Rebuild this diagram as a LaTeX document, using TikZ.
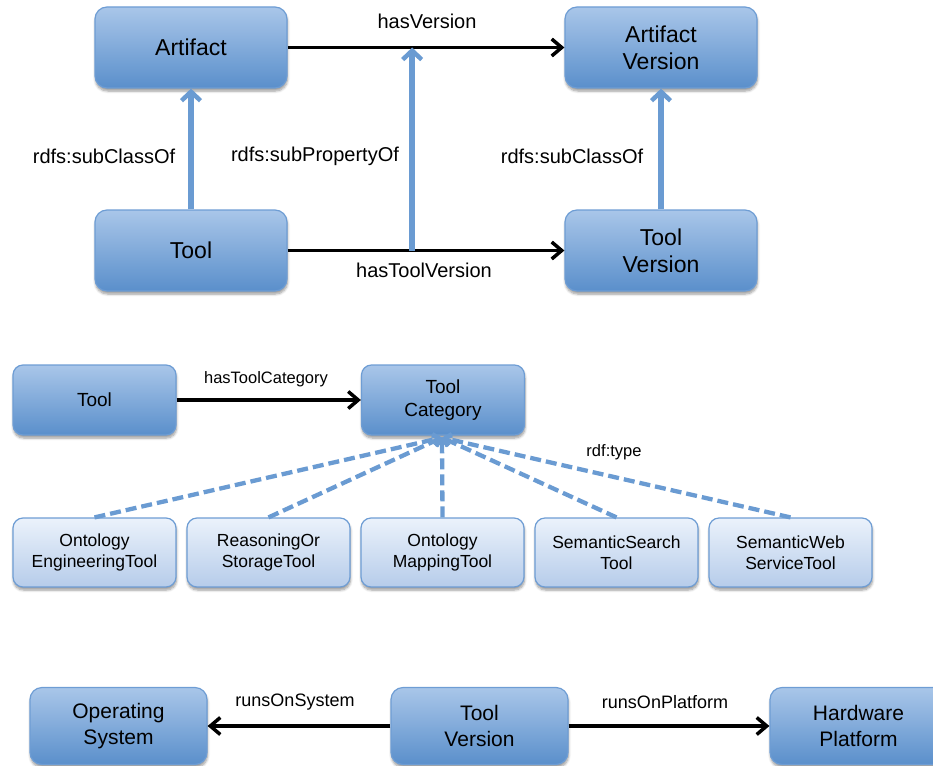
\documentclass[tikz,border=0pt]{standalone}
\usepackage{fontspec}
\setmainfont{Liberation Sans}
\usetikzlibrary{arrows.meta,shadows.blur,calc}

\definecolor{boxtop}{HTML}{A9C6E9}
\definecolor{boxbot}{HTML}{5A8FCB}
\definecolor{boxline}{HTML}{6E9DD4}
\definecolor{lighttop}{HTML}{EBF2FB}
\definecolor{lightbot}{HTML}{B6CCEA}
\definecolor{linkblue}{HTML}{6A9BD2}

\tikzset{
  classbox/.style={rounded corners=12pt, draw=boxline, line width=1.2pt,
    top color=boxtop, bottom color=boxbot, align=center, inner sep=0pt,
    blur shadow={shadow xshift=0.5pt, shadow yshift=-3pt, shadow blur radius=2.5pt,
      shadow blur steps=6, shadow opacity=40}},
  bigbox/.style={classbox, minimum width=192pt, minimum height=81pt,
    font=\fontsize{23}{27}\selectfont},
  midbox/.style={classbox, rounded corners=10pt, minimum width=163pt, minimum height=70pt,
    font=\fontsize{19}{23}\selectfont},
  kindbox/.style={classbox, rounded corners=10pt, top color=lighttop, bottom color=lightbot,
    minimum width=163pt, minimum height=69pt, font=\fontsize{17.5}{21}\selectfont},
  lowbox/.style={classbox, minimum width=177pt, minimum height=77pt,
    font=\fontsize{21}{26}\selectfont},
  relation/.style={line width=3.8pt, draw=black,
    -{Straight Barb[length=10pt,width=17pt,line width=3.5pt]}},
  subrel/.style={line width=6pt, draw=linkblue,
    -{Straight Barb[length=9pt,width=19pt,line width=4.5pt]}},
  typerel/.style={line width=4.3pt, draw=linkblue, dash pattern=on 11pt off 5pt,
    -{Straight Barb[length=6pt,width=12pt,line width=3.5pt]}},
  lbl/.style={font=\fontsize{20}{24}\selectfont, inner sep=0pt},
  slbl/.style={font=\fontsize{16.5}{20}\selectfont, inner sep=0pt},
  blbl/.style={font=\fontsize{18}{22}\selectfont, inner sep=0pt},
}

\begin{document}
\begin{tikzpicture}[x=1pt, y=-1pt]
\useasboundingbox (0,0) rectangle (933,765);
\clip (0,0) rectangle (933,765);

% --- artifacts and their versions ---
\node[bigbox] (art)   at (191,47.5)  {Artifact};
\node[bigbox] (artv)  at (661,47.5)  {Artifact\\Version};
\node[bigbox] (tool)  at (191,250.5) {Tool};
\node[bigbox] (toolv) at (661,250.5) {Tool\\Version};

\draw[relation] (art.east) -- (artv.west);
\draw[relation] (tool.east) -- (toolv.west);
\coordinate (sp) at ($(tool.east)!0.45!(toolv.west)$);
\coordinate (spt) at (sp |- art.east);
\draw[subrel] (sp) -- (spt);
\draw[subrel] (tool.north) -- (art.south);
\draw[subrel] (toolv.north) -- (artv.south);

\node[lbl] (lhv)  at (427,21)  {hasVersion};
\node[lbl] (lhtv) at (424,270) {hasToolVersion};
\node[lbl] (lsc1) at (104,156) {rdfs:subClassOf};
\node[lbl] (lsp)  at (315,156) {rdfs:subPropertyOf};
\node[lbl] (lsc2) at (572,156) {rdfs:subClassOf};

% --- tool categories ---
\node[midbox] (tool2) at (94.5,400) {Tool};
\node[midbox] (cat)   at (443,400)  {Tool\\Category};
\draw[relation] (tool2.east) -- (cat.west);
\node[slbl] (lhtc) at (266,379) {hasToolCategory};

\node[kindbox] (k1) at (94.5,552.5)  {Ontology\\EngineeringTool};
\node[kindbox] (k2) at (268.5,552.5) {ReasoningOr\\StorageTool};
\node[kindbox] (k3) at (442.5,552.5) {Ontology\\MappingTool};
\node[kindbox] (k4) at (616.5,552.5) {SemanticSearch\\Tool};
\node[kindbox] (k5) at (790.5,552.5) {SemanticWeb\\ServiceTool};

\coordinate (hub) at ($(cat.south)+(-1,2)$);
\foreach \k in {k1,k2,k3,k4,k5}
  \draw[typerel] (\k.north) -- (hub);
\node[slbl] (ltype) at (614,452) {rdf:type};

% --- platforms of a tool version ---
\node[lowbox] (os) at (118.5,726) {Operating\\System};
\node[lowbox] (tv) at (479.5,726) {Tool\\Version};
\node[lowbox] (hw) at (858.5,726) {Hardware\\Platform};
\draw[relation] (tv.west) -- (os.east);
\draw[relation] (tv.east) -- (hw.west);
\node[blbl] (lros) at (295,702) {runsOnSystem};
\node[blbl] (lrop) at (665,702) {runsOnPlatform};
\end{tikzpicture}
\end{document}
